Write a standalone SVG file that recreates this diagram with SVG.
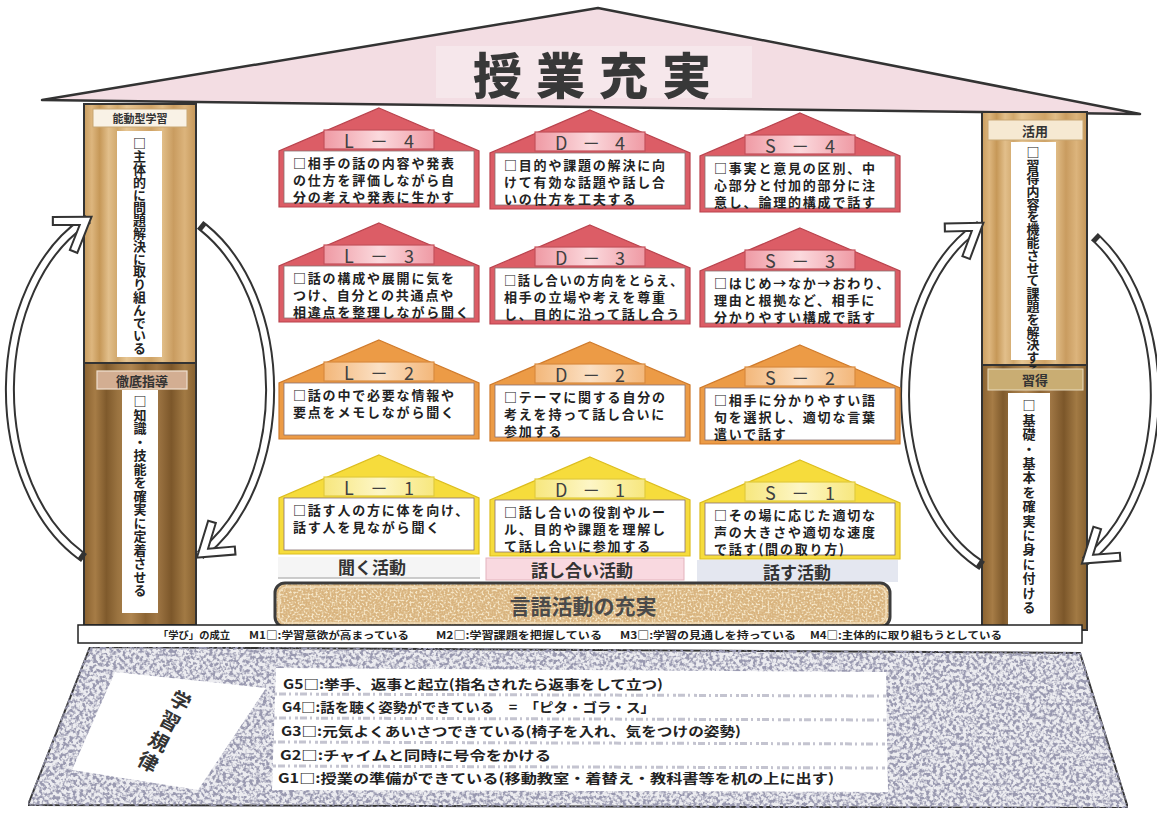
<svg xmlns="http://www.w3.org/2000/svg" width="1157" height="817" viewBox="0 0 1157 817">
  <defs>
    <style>
      .jp { font-family: "Noto Sans CJK JP", "Noto Sans", sans-serif; }
      .card .body { fill: #ffffff; stroke: #8a7070; stroke-width: 0.8; }
      .red .roof { fill: #dc5d66; stroke: #b9434d; stroke-width: 1.2; }
      .red .lbl { fill: url(#lblRed); stroke: #c4505a; stroke-width: 1.2; }
      .orange .roof { fill: #ec9b46; stroke: #cf7a2b; stroke-width: 1.2; }
      .orange .lbl { fill: url(#lblOrange); stroke: #d98a3e; stroke-width: 1.2; }
      .yellow .roof { fill: #f6dc3c; stroke: #dcbd1e; stroke-width: 1.2; }
      .yellow .lbl { fill: url(#lblYellow); stroke: #e2cb3c; stroke-width: 1.2; }
      .lbltxt { font-size: 18px; fill: #404040; text-anchor: middle; dominant-baseline: central; }
      .t { font-size: 13px; font-weight: 700; fill: #222; dominant-baseline: central; letter-spacing: 1.8px; }
      .vt { font-size: 13px; font-weight: 700; fill: #222; writing-mode: vertical-rl; }
      .hdr { font-weight: 700; fill: #333; text-anchor: middle; dominant-baseline: central; }
      .act { font-size: 17px; font-weight: 700; fill: #333; text-anchor: middle; dominant-baseline: central; }
      .m { font-size: 10px; font-weight: 700; fill: #222; dominant-baseline: central; }
      .g { font-size: 13px; font-weight: 700; fill: #222; dominant-baseline: central; }
      .bandOut { fill: none; stroke: #333; stroke-width: 10; stroke-linecap: square; }
      .bandIn { fill: none; stroke: #fff; stroke-width: 6; }
      .pillar { stroke: #333; stroke-width: 2; }
    </style>
    <linearGradient id="woodLight" x1="0" y1="0" x2="1" y2="0">
      <stop offset="0" stop-color="#c99d5f"/>
      <stop offset="0.07" stop-color="#ddb67e"/>
      <stop offset="0.14" stop-color="#c69858"/>
      <stop offset="0.22" stop-color="#e2bf8b"/>
      <stop offset="0.3" stop-color="#d1a86c"/>
      <stop offset="0.38" stop-color="#e6c592"/>
      <stop offset="0.5" stop-color="#d8b078"/>
      <stop offset="0.6" stop-color="#cfa366"/>
      <stop offset="0.7" stop-color="#e1bd87"/>
      <stop offset="0.8" stop-color="#c99c60"/>
      <stop offset="0.9" stop-color="#dcb47c"/>
      <stop offset="1" stop-color="#c49658"/>
    </linearGradient>
    <linearGradient id="woodDark" x1="0" y1="0" x2="1" y2="0">
      <stop offset="0" stop-color="#8a6230"/>
      <stop offset="0.1" stop-color="#a67c46"/>
      <stop offset="0.2" stop-color="#7f5a2c"/>
      <stop offset="0.3" stop-color="#9a7340"/>
      <stop offset="0.42" stop-color="#b08650"/>
      <stop offset="0.55" stop-color="#8c6433"/>
      <stop offset="0.65" stop-color="#a07745"/>
      <stop offset="0.78" stop-color="#7c572a"/>
      <stop offset="0.9" stop-color="#a27a44"/>
      <stop offset="1" stop-color="#86602f"/>
    </linearGradient>
    <linearGradient id="lblRed" x1="0" y1="0" x2="1" y2="0">
      <stop offset="0" stop-color="#ef9aa4"/>
      <stop offset="0.5" stop-color="#fbd9dd"/>
      <stop offset="1" stop-color="#ef9aa4"/>
    </linearGradient>
    <linearGradient id="lblOrange" x1="0" y1="0" x2="1" y2="0">
      <stop offset="0" stop-color="#f3b77a"/>
      <stop offset="0.5" stop-color="#fbe0c4"/>
      <stop offset="1" stop-color="#f3b77a"/>
    </linearGradient>
    <linearGradient id="lblYellow" x1="0" y1="0" x2="1" y2="0">
      <stop offset="0" stop-color="#f7e77e"/>
      <stop offset="0.5" stop-color="#fdf6c6"/>
      <stop offset="1" stop-color="#f7e77e"/>
    </linearGradient>
    <filter id="speckle" x="0" y="0" width="100%" height="100%" color-interpolation-filters="sRGB">
      <feTurbulence type="fractalNoise" baseFrequency="0.3" numOctaves="2" seed="7" result="n"/>
      <feColorMatrix in="n" type="matrix" values="0 0 0 0 0.6  0 0 0 0 0.6  0 0 0 0 0.69  4.5 0 0 0 -1.9" result="dots"/>
      <feComposite in="dots" in2="SourceGraphic" operator="in" result="clip"/>
      <feMerge><feMergeNode in="SourceGraphic"/><feMergeNode in="clip"/></feMerge>
    </filter>
    <filter id="speckleTan" x="0" y="0" width="100%" height="100%" color-interpolation-filters="sRGB">
      <feTurbulence type="fractalNoise" baseFrequency="0.5" numOctaves="2" seed="3" result="n"/>
      <feColorMatrix in="n" type="matrix" values="0 0 0 0 0.96  0 0 0 0 0.9  0 0 0 0 0.78  4 0 0 0 -1.8" result="dots"/>
      <feComposite in="dots" in2="SourceGraphic" operator="in" result="clip"/>
      <feMerge><feMergeNode in="SourceGraphic"/><feMergeNode in="clip"/></feMerge>
    </filter>
    <marker id="chev" markerUnits="userSpaceOnUse" orient="auto" markerWidth="70" markerHeight="70" refX="0" refY="0" overflow="visible">
      <path d="M-26,-19 L2,0 L-26,19" fill="none" stroke="#333" stroke-width="10" stroke-linejoin="miter"/>
      <path d="M-24.3,-17.8 L2,0 L-24.3,17.8" fill="none" stroke="#fff" stroke-width="6" stroke-linejoin="miter"/>
    </marker>
  </defs>

  <rect width="1157" height="817" fill="#ffffff"/>

  <!-- roof -->
  <g id="roof">
    <polygon points="42,100 598,8 1140,114" fill="#f3dde3" stroke="#333" stroke-width="2.5" stroke-linejoin="round"/>
    <rect x="436" y="46" width="316" height="52" fill="#f6e7eb"/>
    <text class="jp" x="599" y="72" font-size="49" font-weight="900" fill="#383838" text-anchor="middle" dominant-baseline="central" letter-spacing="14">授業充実</text>
  </g>

  <!-- left pillar -->
  <g id="pillar-left">
    <rect class="pillar" x="84" y="104" width="112" height="259" fill="url(#woodLight)"/>
    <rect class="pillar" x="84" y="363" width="112" height="262" fill="url(#woodDark)"/>
    <rect x="93" y="109" width="94" height="18" fill="#f9f2e6" stroke="#c9a874" stroke-width="1"/>
    <text class="jp hdr" x="140" y="118" font-size="11">能動型学習</text>
    <rect x="117" y="131" width="45" height="226" fill="#fff"/>
    <text class="jp vt" x="139.5" y="137" letter-spacing="-0.2">□主体的に問題解決に取り組んでいる</text>
    <rect x="97" y="371" width="90" height="18" fill="#d3ae92" stroke="#f0e0d0" stroke-width="1.2"/>
    <text class="jp hdr" x="142" y="380" font-size="13" fill="#4a4040">徹底指導</text>
    <rect x="122" y="390" width="36" height="223" fill="#fff"/>
    <text class="jp vt" x="140" y="395" letter-spacing="0.5">□知識・技能を確実に定着させる</text>
  </g>

  <!-- right pillar -->
  <g id="pillar-right">
    <rect class="pillar" x="982" y="112" width="105" height="253" fill="url(#woodLight)"/>
    <rect class="pillar" x="982" y="365" width="105" height="265" fill="url(#woodDark)"/>
    <rect x="988" y="120" width="95" height="20" fill="#f6e9d2" stroke="#c9a874" stroke-width="1"/>
    <text class="jp hdr" x="1035" y="130" font-size="13">活用</text>
    <rect x="1011" y="142" width="45" height="218" fill="#fff"/>
    <text class="jp vt" x="1033" y="146" font-size="11.5" letter-spacing="-0.2">□習得内容を機能させて課題を解決する</text>
    <rect x="988" y="369" width="95" height="21" fill="#c9ad73" stroke="#e8dcc0" stroke-width="1"/>
    <text class="jp hdr" x="1035" y="379.5" font-size="13">習得</text>
    <rect x="1008" y="393" width="42" height="232" fill="#fff"/>
    <text class="jp vt" x="1029" y="399" font-size="13" letter-spacing="1.4">□基礎・基本を確実に身に付ける</text>
  </g>

  <!-- cycle arrows round each pillar -->
  <g id="connectors">
    <path class="bandOut" d="M80,555 A130,186 0 0 1 84,222"/>
    <path class="bandIn" d="M80,555 A130,186 0 0 1 84,222" marker-end="url(#chev)"/>
    <path class="bandOut" d="M204,228 A130,186 0 0 1 204,552"/>
    <path class="bandIn" d="M204,228 A130,186 0 0 1 204,552" marker-end="url(#chev)"/>
    <path class="bandOut" d="M978,563 A125,185 0 0 1 976,228"/>
    <path class="bandIn" d="M978,563 A125,185 0 0 1 976,228" marker-end="url(#chev)"/>
    <path class="bandOut" d="M1098,240 A125,185 0 0 1 1089,558"/>
    <path class="bandIn" d="M1098,240 A125,185 0 0 1 1089,558" marker-end="url(#chev)"/>
  </g>

  <!-- level cards: L = listening, D = discussion, S = speaking -->
  <g id="card-L4" class="card red jp">
    <polygon class="roof" points="379,108 479,151 479,207 279,207 279,151"/>
    <rect class="lbl" x="324" y="130" width="110" height="19"/>
    <text class="lbltxt" x="379" y="139.5" textLength="70" lengthAdjust="spacing">L－4</text>
    <rect class="body" x="284" y="151" width="190" height="52"/>
    <text class="t"><tspan x="293" y="162">□相手の話の内容や発表</tspan><tspan x="293" y="179">の仕方を評価しながら自</tspan><tspan x="293" y="196">分の考えや発表に生かす</tspan></text>
  </g>
  <g id="card-D4" class="card red jp">
    <polygon class="roof" points="590,110 690,153 690,209 490,209 490,153"/>
    <rect class="lbl" x="535" y="132" width="110" height="19"/>
    <text class="lbltxt" x="590" y="141.5" textLength="70" lengthAdjust="spacing">D－4</text>
    <rect class="body" x="495" y="153" width="190" height="52"/>
    <text class="t"><tspan x="504" y="164">□目的や課題の解決に向</tspan><tspan x="504" y="181">けて有効な話題や話し合</tspan><tspan x="504" y="198">いの仕方を工夫する</tspan></text>
  </g>
  <g id="card-S4" class="card red jp">
    <polygon class="roof" points="800,113 900,156 900,212 700,212 700,156"/>
    <rect class="lbl" x="745" y="135" width="110" height="19"/>
    <text class="lbltxt" x="800" y="144.5" textLength="70" lengthAdjust="spacing">S－4</text>
    <rect class="body" x="705" y="156" width="190" height="52"/>
    <text class="t"><tspan x="714" y="167">□事実と意見の区別、中</tspan><tspan x="714" y="184">心部分と付加的部分に注</tspan><tspan x="714" y="201">意し、論理的構成で話す</tspan></text>
  </g>
  <g id="card-L3" class="card red jp">
    <polygon class="roof" points="379,223 479,266 479,322 279,322 279,266"/>
    <rect class="lbl" x="324" y="245" width="110" height="19"/>
    <text class="lbltxt" x="379" y="254.5" textLength="70" lengthAdjust="spacing">L－3</text>
    <rect class="body" x="284" y="266" width="190" height="52"/>
    <text class="t"><tspan x="293" y="277">□話の構成や展開に気を</tspan><tspan x="293" y="294">つけ、自分との共通点や</tspan><tspan x="293" y="311">相違点を整理しながら聞く</tspan></text>
  </g>
  <g id="card-D3" class="card red jp">
    <polygon class="roof" points="590,225 690,268 690,324 490,324 490,268"/>
    <rect class="lbl" x="535" y="247" width="110" height="19"/>
    <text class="lbltxt" x="590" y="256.5" textLength="70" lengthAdjust="spacing">D－3</text>
    <rect class="body" x="495" y="268" width="190" height="52"/>
    <text class="t"><tspan x="504" y="279" textLength="180" lengthAdjust="spacingAndGlyphs">□話し合いの方向をとらえ、</tspan><tspan x="504" y="296">相手の立場や考えを尊重</tspan><tspan x="504" y="313">し、目的に沿って話し合う</tspan></text>
  </g>
  <g id="card-S3" class="card red jp">
    <polygon class="roof" points="800,228 900,271 900,327 700,327 700,271"/>
    <rect class="lbl" x="745" y="250" width="110" height="19"/>
    <text class="lbltxt" x="800" y="259.5" textLength="70" lengthAdjust="spacing">S－3</text>
    <rect class="body" x="705" y="271" width="190" height="52"/>
    <text class="t"><tspan x="714" y="282">□はじめ→なか→おわり、</tspan><tspan x="714" y="299">理由と根拠など、相手に</tspan><tspan x="714" y="316">分かりやすい構成で話す</tspan></text>
  </g>
  <g id="card-L2" class="card orange jp">
    <polygon class="roof" points="379,340 479,383 479,439 279,439 279,383"/>
    <rect class="lbl" x="324" y="362" width="110" height="19"/>
    <text class="lbltxt" x="379" y="371.5" textLength="70" lengthAdjust="spacing">L－2</text>
    <rect class="body" x="284" y="383" width="190" height="52"/>
    <text class="t"><tspan x="293" y="394">□話の中で必要な情報や</tspan><tspan x="293" y="411">要点をメモしながら聞く</tspan></text>
  </g>
  <g id="card-D2" class="card orange jp">
    <polygon class="roof" points="590,342 690,385 690,441 490,441 490,385"/>
    <rect class="lbl" x="535" y="364" width="110" height="19"/>
    <text class="lbltxt" x="590" y="373.5" textLength="70" lengthAdjust="spacing">D－2</text>
    <rect class="body" x="495" y="385" width="190" height="52"/>
    <text class="t"><tspan x="504" y="396">□テーマに関する自分の</tspan><tspan x="504" y="413">考えを持って話し合いに</tspan><tspan x="504" y="430">参加する</tspan></text>
  </g>
  <g id="card-S2" class="card orange jp">
    <polygon class="roof" points="800,345 900,388 900,444 700,444 700,388"/>
    <rect class="lbl" x="745" y="367" width="110" height="19"/>
    <text class="lbltxt" x="800" y="376.5" textLength="70" lengthAdjust="spacing">S－2</text>
    <rect class="body" x="705" y="388" width="190" height="52"/>
    <text class="t"><tspan x="714" y="399">□相手に分かりやすい語</tspan><tspan x="714" y="416">句を選択し、適切な言葉</tspan><tspan x="714" y="433">遣いで話す</tspan></text>
  </g>
  <g id="card-L1" class="card yellow jp">
    <polygon class="roof" points="379,455 479,498 479,554 279,554 279,498"/>
    <rect class="lbl" x="324" y="477" width="110" height="19"/>
    <text class="lbltxt" x="379" y="486.5" textLength="70" lengthAdjust="spacing">L－1</text>
    <rect class="body" x="284" y="498" width="190" height="52"/>
    <text class="t"><tspan x="293" y="509">□話す人の方に体を向け、</tspan><tspan x="293" y="526">話す人を見ながら聞く</tspan></text>
  </g>
  <g id="card-D1" class="card yellow jp">
    <polygon class="roof" points="590,457 690,500 690,556 490,556 490,500"/>
    <rect class="lbl" x="535" y="479" width="110" height="19"/>
    <text class="lbltxt" x="590" y="488.5" textLength="70" lengthAdjust="spacing">D－1</text>
    <rect class="body" x="495" y="500" width="190" height="52"/>
    <text class="t"><tspan x="504" y="511">□話し合いの役割やルー</tspan><tspan x="504" y="528">ル、目的や課題を理解し</tspan><tspan x="504" y="545">て話し合いに参加する</tspan></text>
  </g>
  <g id="card-S1" class="card yellow jp">
    <polygon class="roof" points="800,460 900,503 900,559 700,559 700,503"/>
    <rect class="lbl" x="745" y="482" width="110" height="19"/>
    <text class="lbltxt" x="800" y="491.5" textLength="70" lengthAdjust="spacing">S－1</text>
    <rect class="body" x="705" y="503" width="190" height="52"/>
    <text class="t"><tspan x="714" y="514">□その場に応じた適切な</tspan><tspan x="714" y="531">声の大きさや適切な速度</tspan><tspan x="714" y="548">で話す(間の取り方)</tspan></text>
  </g>

  <!-- activity captions -->
  <g id="activity-listen" class="jp">
    <rect x="278" y="557" width="202" height="21" fill="#f5f5f5"/>
    <line x1="278" y1="578" x2="480" y2="578" stroke="#bbb" stroke-width="1.5"/>
    <text class="act" x="372" y="566">聞く活動</text>
  </g>
  <g id="activity-discuss" class="jp">
    <rect x="486" y="558" width="198" height="22" fill="#f9d9e0" stroke="#e3b3bd" stroke-width="1"/>
    <text class="act" x="582" y="569">話し合い活動</text>
  </g>
  <g id="activity-speak" class="jp">
    <rect x="697" y="560" width="201" height="22" fill="#e4e7f0"/>
    <text class="act" x="797" y="571">話す活動</text>
  </g>

  <!-- foundation bar -->
  <g id="foundation" class="jp">
    <rect x="275" y="583" width="615" height="44" rx="10" fill="#d9b47f" filter="url(#speckleTan)"/>
    <rect x="279" y="587" width="607" height="36" rx="8" fill="none" stroke="#f1dcb8" stroke-width="1.5"/>
    <rect x="275" y="583" width="615" height="44" rx="10" fill="none" stroke="#3c3c3c" stroke-width="3"/>
    <text x="583" y="605" font-size="21" font-weight="700" fill="#4a4a4a" text-anchor="middle" dominant-baseline="central">言語活動の充実</text>
  </g>

  <!-- learning conditions strip -->
  <g id="conditions" class="jp">
    <rect x="78" y="625" width="1004" height="18" fill="#fff" stroke="#222" stroke-width="1.5"/>
    <text class="m" x="158" y="634.5" textLength="72" lengthAdjust="spacingAndGlyphs">「学び」の成立</text>
    <text class="m" x="249" y="634.5" textLength="160" lengthAdjust="spacingAndGlyphs">M1□:学習意欲が高まっている</text>
    <text class="m" x="436" y="634.5" textLength="166" lengthAdjust="spacingAndGlyphs">M2□:学習課題を把握している</text>
    <text class="m" x="620" y="634.5" textLength="176" lengthAdjust="spacingAndGlyphs">M3□:学習の見通しを持っている</text>
    <text class="m" x="810" y="634.5" textLength="192" lengthAdjust="spacingAndGlyphs">M4□:主体的に取り組もうとしている</text>
  </g>

  <!-- classroom discipline base -->
  <g id="discipline" class="jp">
    <polygon points="90,647 1080,653 1128,808 28,805" fill="#ececf0" stroke="#333" stroke-width="2" filter="url(#speckle)"/>
    <polygon points="115,672 266,688 198,790 72,770" fill="#fff"/>
    <g font-size="20" font-weight="700" fill="#333" text-anchor="middle" dominant-baseline="central">
      <text transform="translate(181,700) rotate(28)">学</text>
      <text transform="translate(170.2,720.3) rotate(28)">習</text>
      <text transform="translate(159.4,740.6) rotate(28)">規</text>
      <text transform="translate(148.6,760.9) rotate(28)">律</text>
    </g>
    <polygon points="276,668 886,672 888,792 272,790" fill="#fff"/>
    <g stroke="#c4c4d0" stroke-width="3" stroke-dasharray="3 2 7 3 2 4">
      <line x1="274" y1="694" x2="887" y2="696"/>
      <line x1="274" y1="718" x2="887" y2="720"/>
      <line x1="273" y1="742" x2="887" y2="744"/>
      <line x1="273" y1="766" x2="888" y2="768"/>
    </g>
    <text class="g" x="283" y="683" textLength="380" lengthAdjust="spacingAndGlyphs">G5□:挙手、返事と起立(指名されたら返事をして立つ)</text>
    <text class="g" x="282" y="706" textLength="373" lengthAdjust="spacingAndGlyphs">G4□:話を聴く姿勢ができている　=　「ピタ・ゴラ・ス」</text>
    <text class="g" x="281" y="730" textLength="460" lengthAdjust="spacingAndGlyphs">G3□:元気よくあいさつできている(椅子を入れ、気をつけの姿勢)</text>
    <text class="g" x="280" y="754" textLength="271" lengthAdjust="spacingAndGlyphs">G2□:チャイムと同時に号令をかける</text>
    <text class="g" x="278" y="777" textLength="556" lengthAdjust="spacingAndGlyphs">G1□:授業の準備ができている(移動教室・着替え・教科書等を机の上に出す)</text>
  </g>
</svg>
